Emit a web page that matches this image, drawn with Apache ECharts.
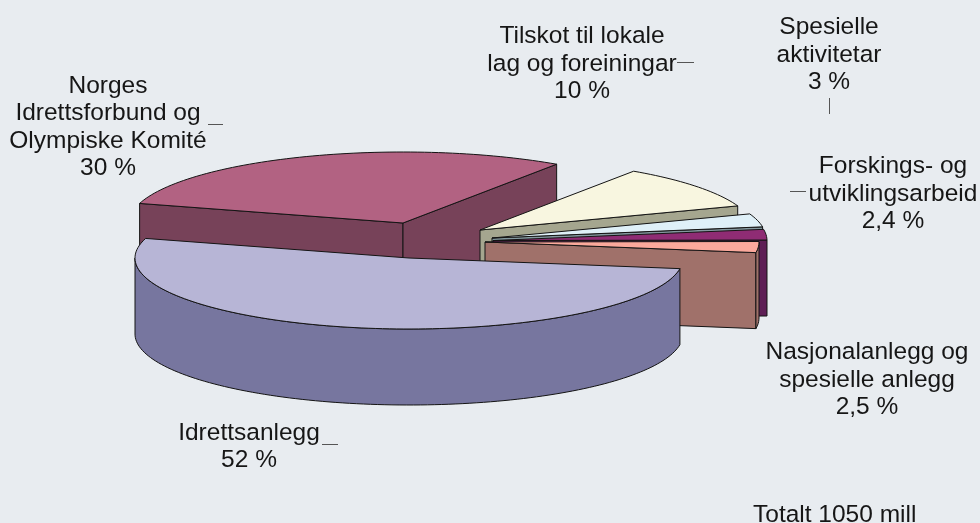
<!DOCTYPE html>
<html>
<head>
<meta charset="utf-8">
<style>html,body{margin:0;padding:0;background:#e8ecf0}#c{width:980px;height:523px}</style>
<script src="https://cdn.jsdelivr.net/npm/echarts@6/dist/echarts.min.js"></script>
</head>
<body>
<div id="c"></div>
<script>
// Data, in clockwise slice order
var categories = ['Norges\nIdrettsforbund og\nOlympiske Komité', 'Tilskot til lokale\nlag og foreiningar', 'Spesielle\naktivitetar', 'Forskings- og\nutviklingsarbeid', 'Nasjonalanlegg og\nspesielle anlegg', 'Idrettsanlegg'];
var values = [30, 10, 3, 2.4, 2.5, 52];
var valueLabels = ['30 %', '10 %', '3 %', '2,4 %', '2,5 %', '52 %'];
var note = 'Totalt 1050 mill';

// Styling
var topColors = ['#b26282', '#f8f6e0', '#dff0f8', '#8f2c74', '#fba99c', '#b7b5d6'];
var wallColors = ['#774259', '#a5a68f', '#84989f', '#5e1e55', '#a0716a', '#77769f'];
var background = '#e8ecf0';
var textColor = '#161616';
var font = '24.5px "Liberation Sans", Arial, sans-serif';

// 3D pie layout
var firstAngle = 164, radiusX = 274, radiusY = 71, depth = 76;
var sliceCentres = [[403, 223], [480, 230], [492, 238], [493, 240.5], [485, 242], [409, 258]];
var labelAnchors = [[108, 182], [582, 105], [829, 96], [893, 235], [867, 421], [249, 474]];
var leaderLines = [[208, 124.5, 223, 124.5], [677, 62.5, 694, 62.5], [829.5, 98, 829.5, 114], [790, 191.5, 806, 191.5], null, [322, 444.5, 338, 444.5]];

var total = values.reduce(function (a, b) { return a + b; }, 0);
function angleAt(i) {
  var s = 0;
  for (var k = 0; k < i; k++) s += values[k];
  return firstAngle - s / total * 360;
}
function pt(c, deg, dz) {
  var r = deg * Math.PI / 180;
  return [c[0] + radiusX * Math.cos(r), c[1] - radiusY * Math.sin(r) + (dz || 0)];
}
function arc(c, from, to, dz) {
  var n = Math.max(2, Math.ceil(Math.abs(to - from) / 1.5)), out = [];
  for (var i = 0; i <= n; i++) out.push(pt(c, from + (to - from) * i / n, dz));
  return out;
}
function poly(points, fill) {
  return { type: 'polygon', shape: { points: points }, style: { fill: fill, stroke: '#141414', lineWidth: 1, lineJoin: 'round' } };
}
function renderItem(params, api) {
  var i = api.value(0);
  var hi = angleAt(i), lo = angleAt(i + 1);
  var c = sliceCentres[i], cb = [c[0], c[1] + depth];
  var wall = wallColors[i], kids = [];
  // radial walls that face the viewer
  if (Math.sin((hi + 90) * Math.PI / 180) < 0) kids.push(poly([c, pt(c, hi), pt(c, hi, depth), cb], wall));
  if (Math.sin((lo - 90) * Math.PI / 180) < 0) kids.push(poly([c, pt(c, lo), pt(c, lo, depth), cb], wall));
  // rim on the front half
  var a = Math.max(lo, -180), b = Math.min(hi, 0);
  if (b > a) kids.push(poly(arc(c, a, b, 0).concat(arc(c, b, a, depth)), wall));
  // top face
  kids.push(poly([c].concat(arc(c, hi, lo, 0)), topColors[i]));
  return { type: 'group', children: kids };
}

var graphics = [];
categories.forEach(function (name, i) {
  graphics.push({
    type: 'text', silent: true,
    style: { text: name + '\n' + valueLabels[i], x: labelAnchors[i][0], y: labelAnchors[i][1], font: font, fill: textColor, textAlign: 'center', textVerticalAlign: 'bottom', lineHeight: 27.5 }
  });
  var l = leaderLines[i];
  if (l) graphics.push({ type: 'line', silent: true, shape: { x1: l[0], y1: l[1], x2: l[2], y2: l[3] }, style: { stroke: '#555', lineWidth: 1 } });
});
graphics.push({ type: 'text', silent: true, style: { text: note, x: 753, y: 528, font: font, fill: textColor, textAlign: 'left', textVerticalAlign: 'bottom' } });

var chart = echarts.init(document.getElementById('c'), null, { renderer: 'canvas' });
chart.setOption({
  animation: false,
  backgroundColor: background,
  graphic: graphics,
  series: [{
    type: 'custom',
    coordinateSystem: 'none',
    renderItem: renderItem,
    data: values.map(function (v, i) { return [i, v]; }),
    encode: { value: 1 },
    silent: true
  }]
});
</script>
</body>
</html>
